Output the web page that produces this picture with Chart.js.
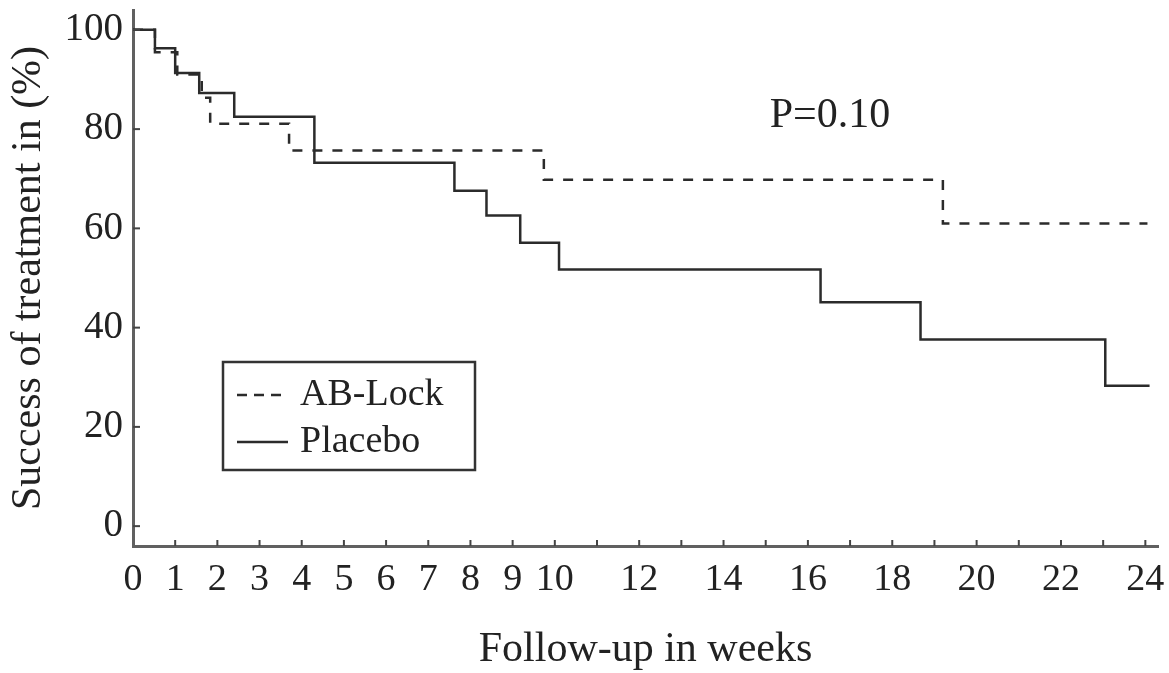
<!DOCTYPE html>
<html>
<head>
<meta charset="utf-8">
<script src="https://cdn.jsdelivr.net/npm/chart.js@4"></script>
<style>
  html, body { margin: 0; padding: 0; background: #fff; }
  #wrap { width: 1169px; height: 673px; position: relative; }
</style>
</head>
<body>
<div id="wrap"><canvas id="km"></canvas></div>
<script>
// Kaplan-Meier steps (weeks, % success)
const weeksAB = [0, 0.52, 1.05, 1.63, 1.83, 3.7, 9.74, 19.2, 24.05];
const abLock = [100, 95.5, 91.0, 86.3, 81.1, 75.7, 69.8, 61.0, 61.0];

const weeksPlacebo = [0, 0.52, 1.0, 1.57, 2.4, 4.3, 7.62, 8.38, 9.18, 10.1, 16.3, 18.67, 23.05, 24.1];
const placebo = [100, 96.3, 91.3, 87.3, 82.5, 73.2, 67.6, 62.6, 57.1, 51.7, 45.1, 37.6, 28.3, 28.3];

const xTickValues = [0, 1, 2, 3, 4, 5, 6, 7, 8, 9, 10, 11, 12, 13, 14, 15, 16, 17, 18, 19, 20, 21, 22, 23, 24];
const xTickLabels = [0, 1, 2, 3, 4, 5, 6, 7, 8, 9, 10, 12, 14, 16, 18, 20, 22, 24];
const yTickValues = [0, 20, 40, 60, 80, 100];

const seriesNames = ["AB-Lock", "Placebo"];
const pValueText = "P=0.10";

const FONT = "'Liberation Serif', 'DejaVu Serif', serif";
const INK = "#222";
const LINE = "#2b2b2b";

function toPoints(xs, ys) {
  return xs.map((x, i) => ({ x: x, y: ys[i] }));
}

// ticks inside the plot, legend box and p-value
const extras = {
  id: "extras",
  afterDatasetsDraw(chart) {
    const { ctx, scales: { x, y } } = chart;
    ctx.save();
    ctx.strokeStyle = "#444";
    ctx.lineWidth = 2;
    xTickValues.forEach((v) => {
      if (v === 0) return;
      const px = x.getPixelForValue(v);
      ctx.beginPath();
      ctx.moveTo(px, x.top);
      ctx.lineTo(px, x.top - 6);
      ctx.stroke();
    });
    yTickValues.forEach((v) => {
      const py = y.getPixelForValue(v);
      ctx.beginPath();
      ctx.moveTo(y.right, py);
      ctx.lineTo(y.right + 7, py);
      ctx.stroke();
    });

    // legend box
    ctx.strokeStyle = "#333";
    ctx.lineWidth = 2.5;
    ctx.strokeRect(223, 362, 252, 108);
    const rows = [395, 442];
    chart.data.datasets.forEach((ds, i) => {
      ctx.strokeStyle = ds.borderColor;
      ctx.lineWidth = ds.borderWidth;
      ctx.setLineDash(ds.borderDash && ds.borderDash.length ? [10, 7] : []);
      ctx.beginPath();
      ctx.moveTo(237, rows[i]);
      ctx.lineTo(288, rows[i]);
      ctx.stroke();
      ctx.setLineDash([]);
      ctx.fillStyle = INK;
      ctx.font = "38px " + FONT;
      ctx.textAlign = "left";
      ctx.textBaseline = "alphabetic";
      ctx.fillText(ds.label, 300, rows[i] + 10);
    });

    ctx.font = "42px " + FONT;
    ctx.textAlign = "center";
    ctx.fillStyle = INK;
    ctx.fillText(pValueText, 830, 127);
    ctx.restore();
  }
};

new Chart(document.getElementById("km"), {
  type: "line",
  data: {
    datasets: [
      {
        label: seriesNames[0],
        data: toPoints(weeksAB, abLock),
        stepped: "before",
        borderColor: LINE,
        borderWidth: 2.5,
        borderDash: [10, 10],
        pointRadius: 0,
        fill: false
      },
      {
        label: seriesNames[1],
        data: toPoints(weeksPlacebo, placebo),
        stepped: "before",
        borderColor: LINE,
        borderWidth: 2.5,
        pointRadius: 0,
        fill: false
      }
    ]
  },
  options: {
    responsive: true,
    maintainAspectRatio: false,
    animation: false,
    layout: { padding: { top: 10, right: 11, left: 0, bottom: 0 } },
    plugins: { legend: { display: false }, tooltip: { enabled: false } },
    scales: {
      x: {
        type: "linear",
        min: 0,
        max: 24.3,
        afterBuildTicks: (s) => { s.ticks = xTickValues.map((v) => ({ value: v })); },
        afterFit: (s) => { s.height = 127; s.paddingLeft = 0; s.paddingRight = 0; },
        grid: { display: true, drawOnChartArea: false, drawTicks: false },
        border: { color: "#606060", width: 3 },
        ticks: {
          autoSkip: false,
          maxRotation: 0,
          padding: 11,
          color: INK,
          font: { family: FONT, size: 38 },
          callback: (v) => (xTickLabels.includes(v) ? String(v) : "")
        },
        title: {
          display: true,
          text: "Follow-up in weeks",
          color: INK,
          font: { family: FONT, size: 42 },
          padding: { top: 0, bottom: -2 }
        }
      },
      y: {
        min: -4,
        max: 104,
        afterBuildTicks: (s) => { s.ticks = yTickValues.map((v) => ({ value: v })); },
        afterFit: (s) => { s.width = 133; s.paddingTop = 0; s.paddingBottom = 0; },
        grid: { display: true, drawOnChartArea: false, drawTicks: false },
        border: { color: "#606060", width: 3 },
        ticks: {
          padding: 10,
          color: INK,
          font: { family: FONT, size: 39 }
        },
        title: {
          display: true,
          text: "Success of treatment in (%)",
          color: INK,
          font: { family: FONT, size: 42 },
          padding: { top: 4, bottom: 0 }
        }
      }
    }
  },
  plugins: [extras]
});
</script>
</body>
</html>
